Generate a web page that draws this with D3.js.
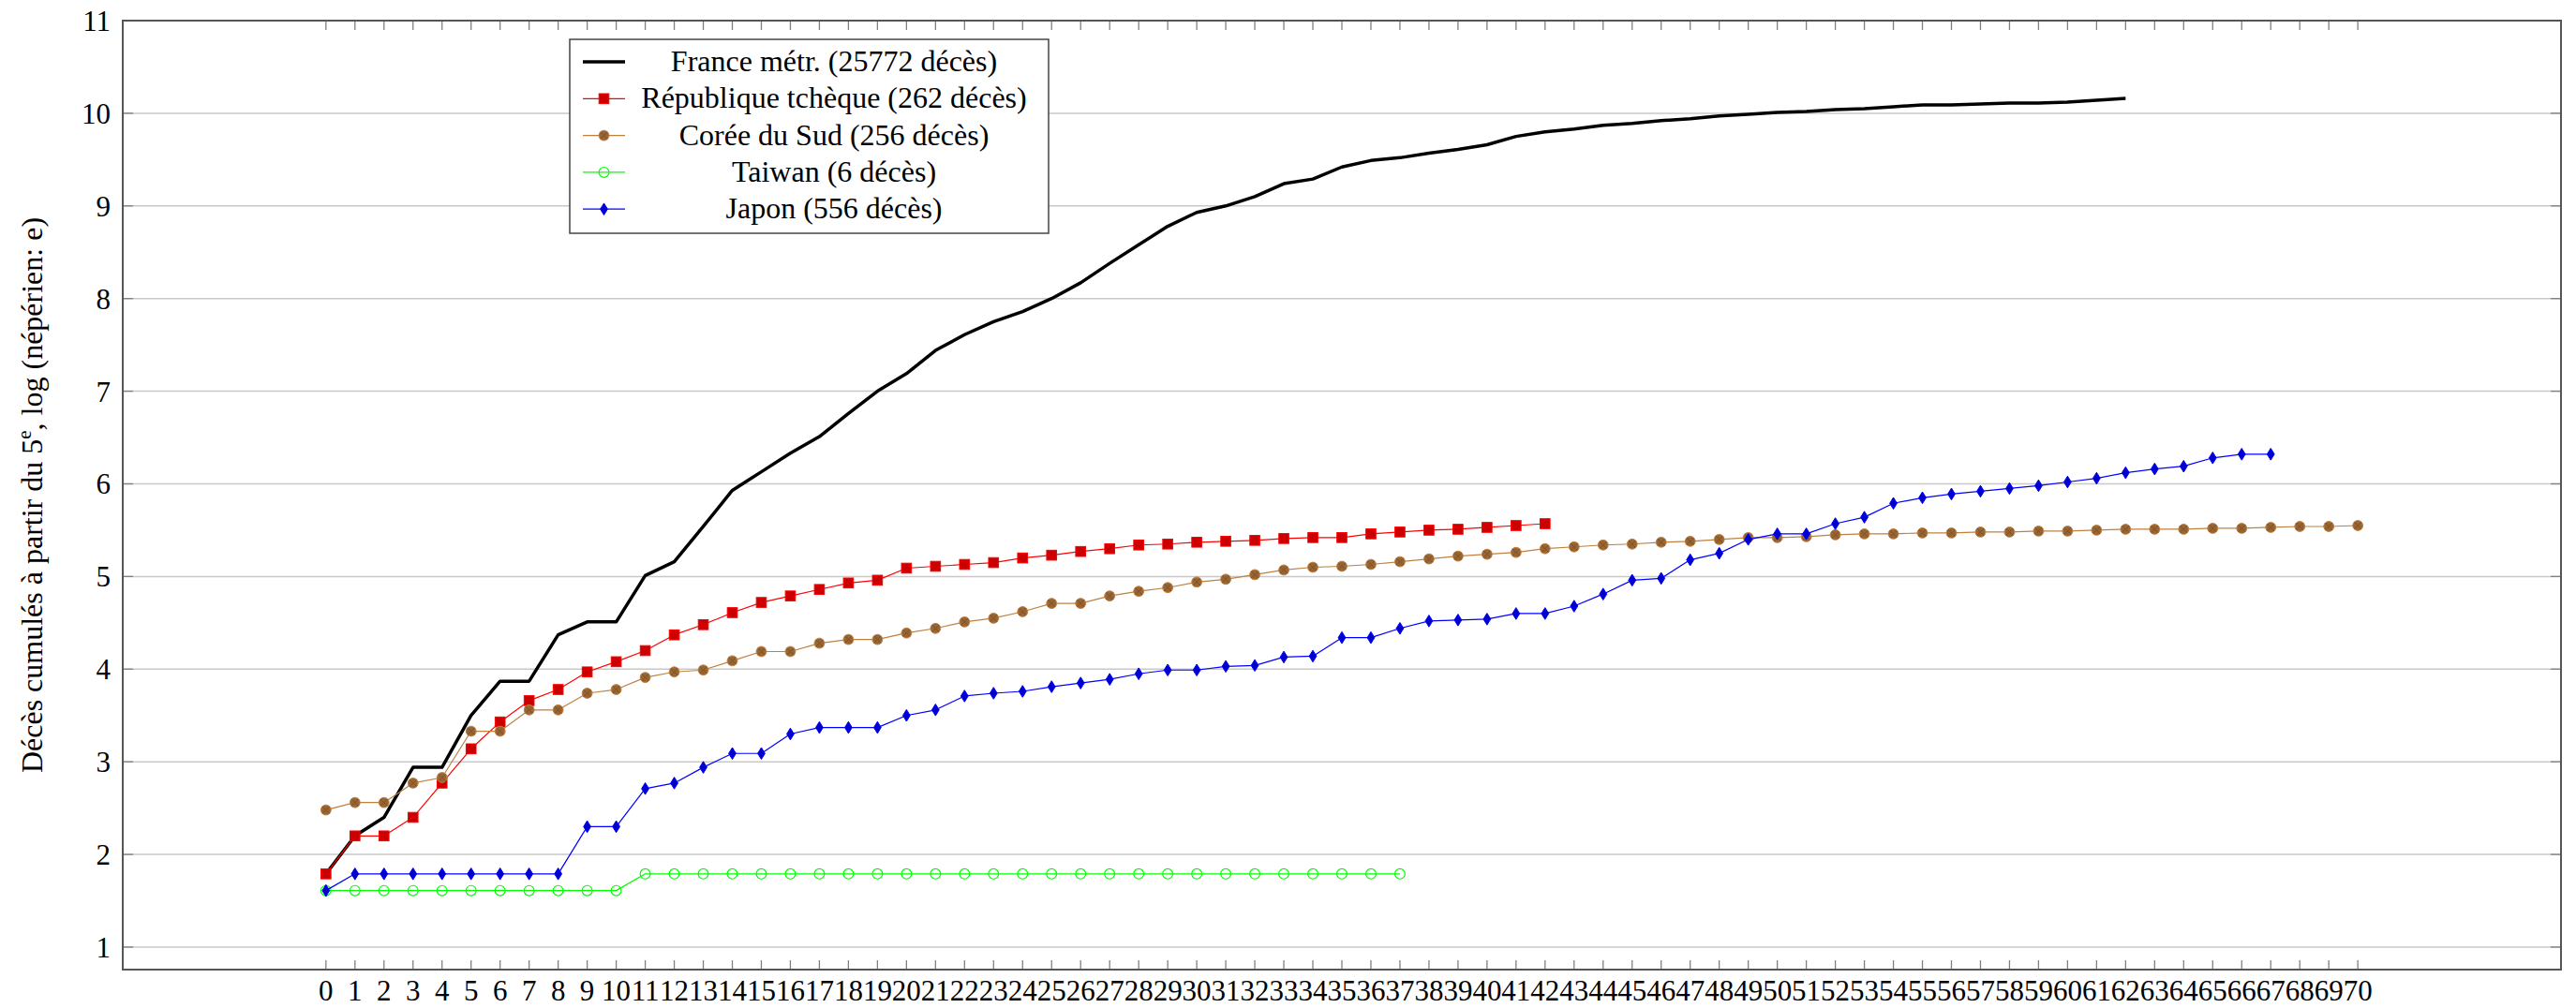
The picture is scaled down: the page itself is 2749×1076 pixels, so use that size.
<!DOCTYPE html>
<html>
<head>
<meta charset="utf-8">
<script src="https://cdn.jsdelivr.net/npm/d3@7"></script>
<style>
  body { margin: 0; background: #fff; }
  text { font-family: "Liberation Serif", "DejaVu Serif", serif; fill: #000; }
</style>
</head>
<body>
<script>
// log (népérien) des décès cumulés, jour 0 = 5e décès
const france = [1.79, 2.20, 2.40, 2.94, 2.94, 3.50, 3.87, 3.87, 4.37, 4.51, 4.51, 5.01, 5.16, 5.54, 5.93,
  6.13, 6.33, 6.51, 6.76, 7.00, 7.19, 7.44, 7.61, 7.75, 7.86, 8.00, 8.17, 8.38, 8.58, 8.78, 8.93, 9.00,
  9.10, 9.24, 9.29, 9.42, 9.49, 9.52, 9.57, 9.61, 9.66, 9.75, 9.80, 9.83, 9.87, 9.89, 9.92, 9.94, 9.97,
  9.99, 10.01, 10.02, 10.04, 10.05, 10.07, 10.09, 10.09, 10.10, 10.11, 10.11, 10.12, 10.14, 10.16];

const tcheque = [1.79, 2.20, 2.20, 2.40, 2.77, 3.14, 3.43, 3.66, 3.78, 3.97, 4.08, 4.20, 4.37, 4.48, 4.61,
  4.72, 4.79, 4.86, 4.93, 4.96, 5.09, 5.11, 5.13, 5.15, 5.20, 5.23, 5.27, 5.30, 5.34, 5.35, 5.37, 5.38,
  5.39, 5.41, 5.42, 5.42, 5.46, 5.48, 5.50, 5.51, 5.53, 5.55, 5.57];

const coree = [2.48, 2.56, 2.56, 2.77, 2.83, 3.33, 3.33, 3.56, 3.56, 3.74, 3.78, 3.91, 3.97, 3.99, 4.09,
  4.19, 4.19, 4.28, 4.32, 4.32, 4.39, 4.44, 4.51, 4.55, 4.62, 4.71, 4.71, 4.79, 4.84, 4.88, 4.94, 4.97,
  5.02, 5.07, 5.10, 5.11, 5.13, 5.16, 5.19, 5.22, 5.24, 5.26, 5.30, 5.32, 5.34, 5.35, 5.37, 5.38, 5.40,
  5.42, 5.42, 5.43, 5.45, 5.46, 5.46, 5.47, 5.47, 5.48, 5.48, 5.49, 5.49, 5.50, 5.51, 5.51, 5.51, 5.52,
  5.52, 5.53, 5.54, 5.54, 5.55];

const taiwan = [1.61, 1.61, 1.61, 1.61, 1.61, 1.61, 1.61, 1.61, 1.61, 1.61, 1.61, 1.79, 1.79, 1.79, 1.79,
  1.79, 1.79, 1.79, 1.79, 1.79, 1.79, 1.79, 1.79, 1.79, 1.79, 1.79, 1.79, 1.79, 1.79, 1.79, 1.79, 1.79,
  1.79, 1.79, 1.79, 1.79, 1.79, 1.79];

const japon = [1.61, 1.79, 1.79, 1.79, 1.79, 1.79, 1.79, 1.79, 1.79, 2.30, 2.30, 2.71, 2.77, 2.94, 3.09,
  3.09, 3.30, 3.37, 3.37, 3.37, 3.50, 3.56, 3.71, 3.74, 3.76, 3.81, 3.85, 3.89, 3.95, 3.99, 3.99, 4.03,
  4.04, 4.13, 4.14, 4.34, 4.34, 4.44, 4.52, 4.53, 4.54, 4.60, 4.60, 4.68, 4.81, 4.96, 4.98, 5.18, 5.25,
  5.40, 5.46, 5.46, 5.57, 5.64, 5.79, 5.85, 5.89, 5.92, 5.95, 5.98, 6.02, 6.06, 6.12, 6.16, 6.19, 6.28,
  6.32, 6.32];

const legendLabels = [
  "France métr. (25772 décès)",
  "République tchèque (262 décès)",
  "Corée du Sud (256 décès)",
  "Taiwan (6 décès)",
  "Japon (556 décès)"
];

const xTicks = d3.range(0, 71);
const yTicks = d3.range(1, 12);

const W = 2749, H = 1076;
const plotLeft = 131, plotRight = 2733, plotTop = 22, plotBottom = 1035;

const series = [
  { values: france, color: "#000000", lineWidth: 3.5, mark: null },
  { values: tcheque, color: "#ff0000", lineWidth: 1.2, mark: "square" },
  { values: coree, color: "#bf8040", lineWidth: 1.2, mark: "otimes" },
  { values: taiwan, color: "#00ff00", lineWidth: 1.2, mark: "circle" },
  { values: japon, color: "#0000ff", lineWidth: 1.2, mark: "diamond" }
];

function drawMark(g, kind, x, y) {
  if (kind === "square") {
    g.append("rect")
      .attr("x", x - 5.3).attr("y", y - 5.3)
      .attr("width", 10.6).attr("height", 10.6)
      .attr("fill", "#cc0000").attr("stroke", "#ff0000").attr("stroke-width", 1);
  } else if (kind === "otimes") {
    const r = 5.4, k = r * 0.7;
    g.append("circle").attr("cx", x).attr("cy", y).attr("r", r)
      .attr("fill", "#996633").attr("stroke", "#bf8040").attr("stroke-width", 1);
    g.append("path")
      .attr("d", `M${x - k},${y - k}L${x + k},${y + k}M${x - k},${y + k}L${x + k},${y - k}`)
      .attr("stroke", "#7a5228").attr("stroke-width", 1);
  } else if (kind === "circle") {
    g.append("circle").attr("cx", x).attr("cy", y).attr("r", 5.4)
      .attr("fill", "none").attr("stroke", "#00ff00").attr("stroke-width", 1.2);
  } else if (kind === "diamond") {
    g.append("path")
      .attr("d", `M${x},${y - 6.3}L${x + 3.9},${y}L${x},${y + 6.3}L${x - 3.9},${y}Z`)
      .attr("fill", "#0000cc").attr("stroke", "#0000ff").attr("stroke-width", 1);
  }
}

function createChart() {
  const svg = d3.select("body").append("svg")
    .attr("width", W)
    .attr("height", H);

  const x = d3.scaleLinear().domain([-7, 77]).range([plotLeft, plotRight]);
  const y = d3.scaleLinear().domain([0.757, 11]).range([plotBottom, plotTop]);

  // grid
  svg.append("g")
    .selectAll("line")
    .data(yTicks)
    .join("line")
    .attr("x1", plotLeft).attr("x2", plotRight)
    .attr("y1", d => y(d)).attr("y2", d => y(d))
    .attr("stroke", "#c8c8c8").attr("stroke-width", 1.5);

  // tick marks (inward, on all four sides)
  const ticks = svg.append("g").attr("stroke", "#808080").attr("stroke-width", 1.3);
  xTicks.forEach(t => {
    ticks.append("line").attr("x1", x(t)).attr("x2", x(t)).attr("y1", plotBottom).attr("y2", plotBottom - 10);
    ticks.append("line").attr("x1", x(t)).attr("x2", x(t)).attr("y1", plotTop).attr("y2", plotTop + 10);
  });
  yTicks.forEach(t => {
    ticks.append("line").attr("x1", plotLeft).attr("x2", plotLeft + 11).attr("y1", y(t)).attr("y2", y(t));
    ticks.append("line").attr("x1", plotRight).attr("x2", plotRight - 11).attr("y1", y(t)).attr("y2", y(t));
  });

  // x tick labels
  svg.append("g")
    .selectAll("text")
    .data(xTicks)
    .join("text")
    .attr("x", d => x(d))
    .attr("y", 1068)
    .attr("text-anchor", "middle")
    .attr("font-size", 31)
    .text(d => d);

  // y tick labels
  svg.append("g")
    .selectAll("text")
    .data(yTicks)
    .join("text")
    .attr("x", 118)
    .attr("y", d => y(d) + 11)
    .attr("text-anchor", "end")
    .attr("font-size", 31)
    .text(d => d);

  // y axis label
  const ylab = svg.append("text")
    .attr("transform", `translate(45,${(plotTop + plotBottom) / 2}) rotate(-90)`)
    .attr("text-anchor", "middle")
    .attr("font-size", 32);
  ylab.append("tspan").text("Décès cumulés à partir du 5");
  ylab.append("tspan").attr("font-size", 21).attr("dy", -12).text("e");
  ylab.append("tspan").attr("dy", 12).text(", log (népérien: e)");

  // series
  const line = d3.line().x((d, i) => x(i)).y(d => y(d));
  series.forEach(s => {
    const g = svg.append("g");
    g.append("path")
      .datum(s.values)
      .attr("d", line)
      .attr("fill", "none")
      .attr("stroke", s.color)
      .attr("stroke-width", s.lineWidth)
      .attr("stroke-linejoin", "round");
    if (s.mark) s.values.forEach((v, i) => drawMark(g, s.mark, x(i), y(v)));
  });

  // frame
  svg.append("rect")
    .attr("x", plotLeft).attr("y", plotTop)
    .attr("width", plotRight - plotLeft).attr("height", plotBottom - plotTop)
    .attr("fill", "none").attr("stroke", "#555").attr("stroke-width", 2);

  // legend
  const lg = svg.append("g");
  lg.append("rect")
    .attr("x", 608).attr("y", 42)
    .attr("width", 511).attr("height", 207)
    .attr("fill", "#fff").attr("stroke", "#444").attr("stroke-width", 1.5);

  series.forEach((s, i) => {
    const ry = 66 + i * 39.3;
    lg.append("line")
      .attr("x1", 622).attr("x2", 667).attr("y1", ry).attr("y2", ry)
      .attr("stroke", s.color).attr("stroke-width", s.lineWidth);
    if (s.mark) drawMark(lg, s.mark, 644.5, ry);
    lg.append("text")
      .attr("x", 890).attr("y", ry + 10)
      .attr("text-anchor", "middle")
      .attr("font-size", 32)
      .text(legendLabels[i]);
  });
}

createChart();
</script>
</body>
</html>
